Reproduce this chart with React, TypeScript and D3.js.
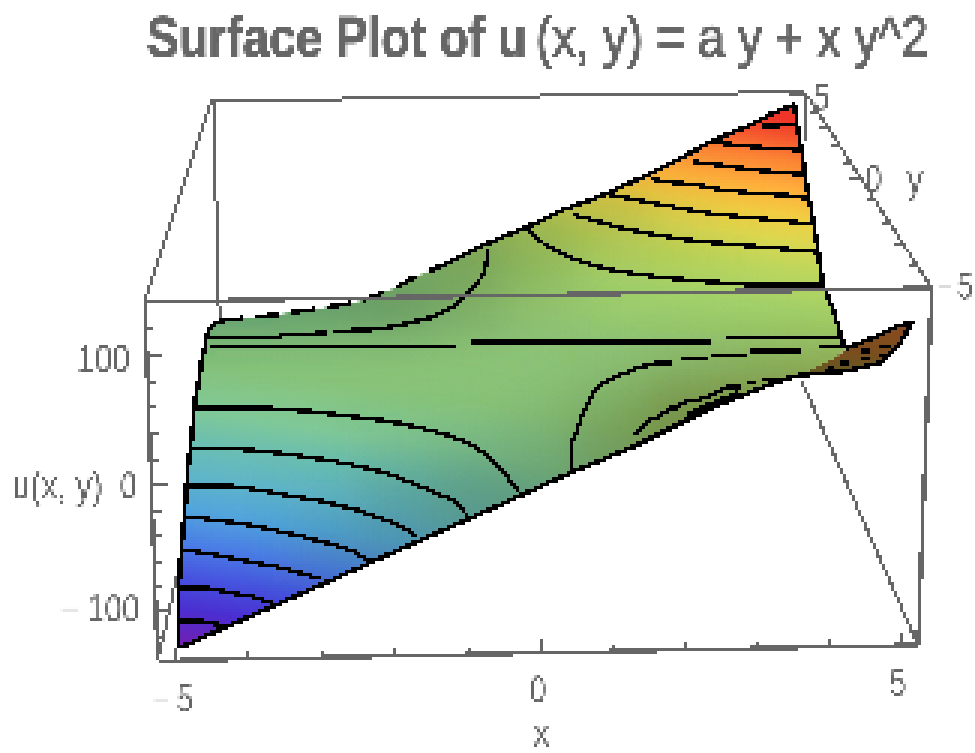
import React from 'react';
import * as d3 from 'd3';

const width = 975;
const height = 753;

type Pt = [number, number];

// everything below as [x, u] in the plane of the front face

const edgeBottom: Pt[] = [[-5.01, -131.2], [-0.56, -16.8], [0.42, 8.8], [1.29, 29.6], [2.4, 61.6], [3.24, 80.8], [3.61, 87.2], [4.26, 90.4], [4.72, 96.8], [4.96, 109.6], [5.18, 129.6]];
const edgeWing: Pt[] = [[5.18, 129.6], [4.96, 126.4], [4.63, 116.8], [4.26, 108.8]];
const edgeRight: Pt[] = [[4.26, 108.8], [4.21, 113.6], [4.07, 139.2], [3.93, 159.2], [3.85, 191.2], [3.78, 215.2], [3.71, 235.2], [3.65, 259.2], [3.58, 283.2], [3.54, 303.2]];
const edgeTop: Pt[] = [[3.54, 303.2], [3.24, 296.8], [2.92, 287.2], [2.36, 273.6], [1.99, 261.6], [1.49, 247.2], [0.88, 231.2], [0.32, 219.2], [0.04, 211.2], [-0.51, 197.6], [-0.88, 188.8], [-1.25, 177.6], [-1.76, 164.8], [-2.08, 155.2], [-2.54, 145.6], [-3.19, 139.2], [-3.93, 133.6], [-4.49, 130.4]];
const edgeLeft: Pt[] = [[-4.49, 130.4], [-4.61, 121.6], [-4.65, 111.2], [-4.69, 101.6], [-4.75, 77.6], [-4.79, 67.2], [-4.83, 40.8], [-4.89, 13.6], [-4.93, -18.4], [-4.97, -44.8], [-5.03, -92.8], [-5.01, -131.2]];
const underside: Pt[] = [[3.61, 87.2], [4.26, 90.4], [4.72, 96.8], [4.96, 109.6], [5.18, 129.6], [4.96, 126.4], [4.63, 116.8], [4.26, 108.8], [4.1, 100.8], [3.82, 93.6]];

const contours: Pt[][] = [
  [[3.1, 286.4], [3.57, 287.2]],
  [[2.36, 273.6], [2.82, 270.4], [3.38, 268], [3.63, 267.2]],
  [[2.13, 257.6], [2.5, 255.2], [2.96, 251.2], [3.47, 248.8], [3.67, 247.2]],
  [[1.53, 244], [1.76, 241.6], [2.08, 240], [2.46, 236], [2.92, 232.8], [3.57, 230.4], [3.71, 228]],
  [[0.93, 232], [1.29, 228], [1.57, 224.8], [1.85, 221.6], [2.22, 217.6], [2.68, 214.4], [3.24, 211.2], [3.78, 208]],
  [[0.46, 215.2], [0.74, 211.2], [0.93, 208], [1.11, 204.8], [1.39, 201.6], [1.71, 198.4], [2.04, 195.2], [2.6, 192], [3.24, 188.8], [3.85, 185.6]],
  [[-0.18, 204.8], [-0.1, 199.2], [0.04, 192.8], [0.14, 188.8], [0.28, 185.6], [0.42, 181.6], [0.56, 178.4], [0.74, 175.2], [0.93, 172], [1.25, 168.8], [1.63, 165.6], [2.22, 162.4], [2.92, 159.2], [3.93, 159.2]],
  [[-0.72, 187.2], [-0.76, 173.6], [-0.81, 165.6], [-0.9, 159.2], [-1, 152.8], [-1.11, 145.6], [-1.25, 140.8], [-1.39, 136.8], [-1.53, 132.8], [-1.76, 129.6], [-1.99, 126.4], [-2.36, 123.2], [-2.88, 122.4]],
  [[-2.96, 120.8], [-3.61, 119.2], [-3.61, 116.8], [-4.63, 116.8]],
  [[-4.58, 109.6], [-1.15, 109.6]],
  [[-0.97, 113.6], [2.36, 113.6]],
  [[2.58, 116.8], [4.21, 116.8]],
  [[4.21, 109.6], [3.89, 109.6]],
  [[3.61, 106.4], [2.92, 106.4]],
  [[2.88, 103.2], [2.36, 103.2]],
  [[2.32, 100], [1.94, 100]],
  [[1.85, 96.8], [1.63, 96.8], [1.39, 93.6], [1.25, 90.4], [1.01, 84.8], [0.88, 80.8], [0.83, 77.6], [0.72, 71.2], [0.63, 60.8], [0.56, 51.2], [0.5, 40.8], [0.44, 32.8], [0.44, 11.2]],
  [[3.38, 84], [3.1, 84]],
  [[3.01, 80.8], [2.88, 80.8]],
  [[2.78, 77.6], [2.6, 77.6], [2.5, 74.4], [2.36, 70.4], [2.18, 67.2], [2.04, 67.2], [1.9, 60.8], [1.81, 60.8], [1.67, 54.4], [1.53, 51.2], [1.43, 47.2], [1.32, 39.2]],
  [[2.04, 55.2], [2.29, 62.4], [2.54, 68], [2.74, 73.6]],
  [[-4.76, 60.8], [-3.79, 60.8], [-3.1, 57.6], [-2.68, 54.4], [-2.22, 51.2], [-1.9, 48], [-1.67, 44.8], [-1.43, 41.6], [-1.25, 38.4], [-1.11, 35.2], [-0.88, 28.8], [-0.69, 20.8], [-0.56, 13.6], [-0.42, 3.2], [-0.28, -7.2]],
  [[-4.83, 28], [-4.17, 28], [-3.65, 24.8], [-3.24, 21.6], [-2.88, 18.4], [-2.6, 15.2], [-2.36, 12], [-2.13, 8.8], [-1.99, 5.6], [-1.81, 1.6], [-1.67, -1.6], [-1.53, -4.8], [-1.43, -8], [-1.29, -11.2], [-1.18, -14.4], [-1.07, -20.8], [-1, -26.4]],
  [[-4.89, -1.6], [-4.31, -1.6], [-3.89, -4.8], [-3.61, -8], [-3.29, -11.2], [-2.96, -14.4], [-2.78, -17.6], [-2.54, -20.8], [-2.4, -24], [-2.22, -27.2], [-2.08, -30.4], [-1.94, -34.4], [-1.81, -37.6], [-1.71, -42.4]],
  [[-4.93, -27.2], [-4.72, -27.2], [-4.31, -30.4], [-3.89, -34.4], [-3.65, -37.6], [-3.38, -40.8], [-3.19, -44], [-2.96, -47.2], [-2.78, -50.4], [-2.6, -53.6], [-2.46, -58.4], [-2.32, -62.4]],
  [[-4.97, -53.6], [-4.82, -53.6], [-4.49, -56.8], [-4.21, -60], [-3.93, -63.2], [-3.65, -66.4], [-3.43, -69.6], [-3.24, -72.8], [-3.06, -76]],
  [[-5, -83.2], [-4.63, -83.2], [-4.35, -86.4], [-4.03, -89.6], [-3.85, -92.8], [-3.71, -96]],
  [[-5.03, -109.6], [-4.72, -109.6], [-4.44, -112.8], [-4.31, -112.8]],
];

const undersideDashes: Pt[][] = [
  [[4.44, 106.4], [4.58, 106.4]],
  [[4.72, 109.6], [4.86, 109.6]],
  [[4.72, 103.2], [4.86, 103.2]],
  [[4.44, 100], [4.58, 100]],
  [[4.17, 96.8], [4.31, 96.8]],
  [[3.99, 93.6], [4.1, 93.6]],
];

// box edges hidden behind the surface first, the rest after it
const backEdges: Pt[][] = [
  [[-4.57, 306.4], [3.68, 313.6]],
  [[-4.57, 306.4], [-5.49, 145.6]],
  [[-4.53, 304.8], [-4.47, 147.2], [-4.42, 129.6]],
  [[3.67, 313.6], [3.67, 275.2]],
  [[3.68, 313.6], [5.44, 156.8]],
  [[5.25, -128.8], [3.64, 81.6]],
  [[-5.31, -141.6], [-5.01, -65.6]],
];
const frontEdges: Pt[][] = [
  [[-5.49, 145.6], [5.44, 156.8]],
  [[5.44, 156.8], [5.25, -128.8]],
  [[-5.31, -141.6], [5.25, -128.8]],
  [[-5.49, 145.6], [-5.31, -141.6]],
];

const xTicks = d3.range(-5, 6);
const uTicks = d3.range(-120, 121, 20);
const yTicks = d3.range(-5, 6);

// colour against depth down the surface, measured across the contours
const rampDepth = [30, 50, 71, 100, 125, 150, 180, 220, 280, 360, 410, 440, 475, 510, 545, 580, 610, 640, 660];
const rampColors = ['#ee3528', '#f55a2e', '#fb8434', '#ffb03c', '#f2cc42', '#dcd74f', '#bcd65c', '#a3d26c', '#8fc576', '#89c47a', '#7fc898', '#6cbfb0', '#5fb5c8', '#52a4dc', '#4a7ce6', '#4650de', '#4b2ed0', '#6a22b8', '#8a1ea0'];

// how dark the lighting gets around the saddle, rows top to bottom, columns x = -5..5
const shadeRows = d3.range(300, -141, -40);
const shadeCols = d3.range(-5, 6);
const shadeLevels = [
  [0, 0, 0, 0, 0, 0, 0, 0, 0, 0, 0],
  [0, 0, 0, 0, 0, 0, 0, 0, 0, 0, 0],
  [0.4, 0.4, 0.4, 0.4, 0.4, 0.35, 0.3, 0.1, 0, 0, 0],
  [0.4, 0.4, 0.4, 0.4, 0.55, 0.35, 0.1, 0.05, 0, 0, 0],
  [0.5, 0.5, 0.5, 0.55, 0.3, 0.1, 0, 0, 0, 0, 0],
  [0, 0, 0, 0, 0, 0, 0.05, 0.15, 0.25, 0.3, 0.3],
  [0, 0, 0, 0, 0, 0.1, 0.35, 0.7, 0.7, 0.7, 0.7],
  [0, 0, 0, 0.15, 0.3, 0.4, 0.6, 0.7, 0.7, 0.7, 0.7],
  [0, 0, 0.1, 0.3, 0.5, 0.5, 0.5, 0.5, 0.5, 0.5, 0.5],
  [0, 0, 0.2, 0.3, 0.3, 0.3, 0.3, 0.3, 0.3, 0.3, 0.3],
  [0, 0, 0, 0, 0, 0, 0, 0, 0, 0, 0],
  [0, 0, 0, 0, 0, 0, 0, 0, 0, 0, 0],
];

// plane scales for the surface and the box
const px = d3.scaleLinear().domain([-5, 5]).range([180, 900]);
const py = d3.scaleLinear().domain([-100, 100]).range([609, 359]);

// the axes recede, so their ticks get their own scales
const xAxis = d3.scaleLinear().domain([-5, 0, 5]).range([175, 541.7, 902]);
const xAxisBase = d3.scaleLinear().domain([-5, 5]).range([661, 645]);
const uAxis = d3.scaleLinear().domain([-100, 0, 100]).range([611.7, 485.7, 355]);
const uAxisBase = d3.scaleLinear().domain([302, 661]).range([145, 158]);
const yAxisX = d3.scaleLinear().domain([-5, 0, 5]).range([930, 863, 805]);
const yAxisY = d3.scaleLinear().domain([-5, 0, 5]).range([287, 179, 95]);

const shadeTint = d3.scaleLinear<string>().domain([-5, 0, 5]).range(['#1f6e6e', '#5a7a40', '#8a7a10']);

const line = d3.line<Pt>().x(d => px(d[0])).y(d => py(d[1]));

const GREY = '#666';
const FAINT = '#dcdcdc';

// the picture's text is stretched upwards, so labels get a vertical scale and a fitted width
const Label = ({ x, y, w, size = 32, stretch = 1.2, weight = 'normal', fill = GREY, bolden = 0, children }: any) => (
  <text
    transform={`translate(${x},${y}) scale(1,${stretch})`}
    fontSize={size}
    fontWeight={weight}
    fill={fill}
    stroke={bolden ? fill : 'none'}
    strokeWidth={bolden}
    textLength={w}
    lengthAdjust="spacingAndGlyphs"
    fontFamily="'Liberation Sans', Arial, sans-serif"
  >
    {children}
  </text>
);

const App = () => {
  const surface = [...edgeBottom, ...edgeWing.slice(1), ...edgeRight.slice(1), ...edgeTop.slice(1), ...edgeLeft.slice(1)];
  const sheet = [...edgeBottom.slice(0, 7), [4.1, 100.8] as Pt, ...edgeRight.slice(0), ...edgeTop.slice(1), ...edgeLeft.slice(1)];
  const cellW = px(1) - px(0);
  const cellH = py(0) - py(40);

  return (
    <svg width={width} height={height} style={{ position: 'absolute', left: 0, top: 0, background: '#fff' }}>
      <defs>
        <linearGradient id="ramp" gradientUnits="userSpaceOnUse" x1={190} y1={30} x2={97.6} y2={646}>
          {rampDepth.map((d, i) => (
            <stop key={i} offset={(d - 30) / 630} stopColor={rampColors[i]} />
          ))}
        </linearGradient>
        <linearGradient id="wing" x1="0" y1="0" x2="0" y2="1">
          <stop offset="0" stopColor="#8a4a1e" />
          <stop offset="0.6" stopColor="#7a4e1e" />
          <stop offset="1" stopColor="#5f5a22" />
        </linearGradient>
        <clipPath id="sheet">
          <path d={line(sheet) + 'Z'} />
        </clipPath>
        <filter id="soft" filterUnits="userSpaceOnUse" x={0} y={0} width={width} height={height}>
          <feGaussianBlur stdDeviation={24} />
        </filter>
        {/* the reference is a small bitmap blown up, this gives the same blocks */}
        <filter id="blocks" filterUnits="userSpaceOnUse" x={0} y={0} width={width} height={height} colorInterpolationFilters="sRGB">
          <feFlood x={1} y={1} width={1} height={1} />
          <feComposite width={3} height={3} />
          <feTile result="dots" />
          <feComposite in="SourceGraphic" in2="dots" operator="in" />
          <feMorphology operator="dilate" radius={1} />
        </filter>
      </defs>

      <g filter="url(#blocks)">
        <Label x={147} y={57} w={380} size={41} stretch={1.38} weight="bold" bolden={0.7}>Surface Plot of u</Label>
        <Label x={536} y={57} w={392} size={41} stretch={1.38} bolden={1.1}>(x, y) = a y + x y^2</Label>

        <g fill="none" stroke={GREY} strokeWidth={3} shapeRendering="crispEdges">
          {backEdges.map((d, i) => <path key={i} d={line(d)!} />)}
        </g>

        <path d={line(underside) + 'Z'} fill="url(#wing)" />
        <g clipPath="url(#sheet)">
          <path d={line(surface) + 'Z'} fill="url(#ramp)" />
          <g filter="url(#soft)">
            {shadeRows.map((u, r) => shadeCols.map((x, c) => (
              <rect
                key={`${r}-${c}`}
                x={px(x) - cellW / 2}
                y={py(u) - cellH / 2}
                width={cellW}
                height={cellH}
                fill={shadeTint(x)}
                opacity={shadeLevels[r][c]}
              />
            )))}
          </g>
        </g>

        <g fill="none" stroke="#000" strokeWidth={4} shapeRendering="crispEdges">
          {contours.map((d, i) => <path key={i} d={line(d)!} />)}
          {undersideDashes.map((d, i) => <path key={i} d={line(d)!} />)}
          <path d={line(edgeBottom)!} strokeWidth={4.5} />
          <path d={line(edgeWing)!} strokeWidth={4.5} />
          <path d={line(edgeRight)!} strokeWidth={4.5} />
          <path d={line(edgeTop.slice(0, 12))!} strokeWidth={4.5} />
          <path d={line(edgeTop.slice(11))!} strokeWidth={4.5} strokeDasharray="24 12" />
          <path d={line(edgeLeft)!} strokeWidth={4.5} />
        </g>

        <g fill="none" stroke={GREY} strokeWidth={3} shapeRendering="crispEdges">
          {frontEdges.map((d, i) => <path key={i} d={line(d)!} strokeWidth={4} />)}
          {xTicks.map(t => (
            <line key={t} x1={xAxis(t)} x2={xAxis(t)} y1={xAxisBase(t)} y2={xAxisBase(t) - (t === 0 || Math.abs(t) === 5 ? 13 : 7)} />
          ))}
          {uTicks.map(t => {
            const y = uAxis(t);
            return <line key={t} x1={uAxisBase(y)} x2={uAxisBase(y) + (t % 100 === 0 ? 15 : 8)} y1={y} y2={y} />;
          })}
          {yTicks.map(t => (
            <line key={t} x1={yAxisX(t)} x2={yAxisX(t) - (t === 0 || Math.abs(t) === 5 ? 15 : 8)} y1={yAxisY(t)} y2={yAxisY(t)} />
          ))}
        </g>

        <Label x={77} y={372} w={53}>100</Label>
        <Label x={120} y={499} w={17}>0</Label>
        <Label x={60} y={622} w={20} fill={FAINT}>−</Label>
        <Label x={87} y={622} w={53}>100</Label>
        <Label x={12} y={499} w={91}>u(x, y)</Label>
        <Label x={153} y={712} w={17} fill={FAINT}>−</Label>
        <Label x={177} y={712} w={16}>5</Label>
        <Label x={530} y={703} w={16}>0</Label>
        <Label x={890} y={696} w={16}>5</Label>
        <Label x={533} y={746} w={17}>x</Label>
        <Label x={813} y={110} w={17}>5</Label>
        <Label x={865} y={192} w={17}>0</Label>
        <Label x={907} y={193} w={16}>y</Label>
        <Label x={937} y={299} w={16} fill={FAINT}>−</Label>
        <Label x={957} y={299} w={16}>5</Label>
      </g>
    </svg>
  );
};

export default App;
